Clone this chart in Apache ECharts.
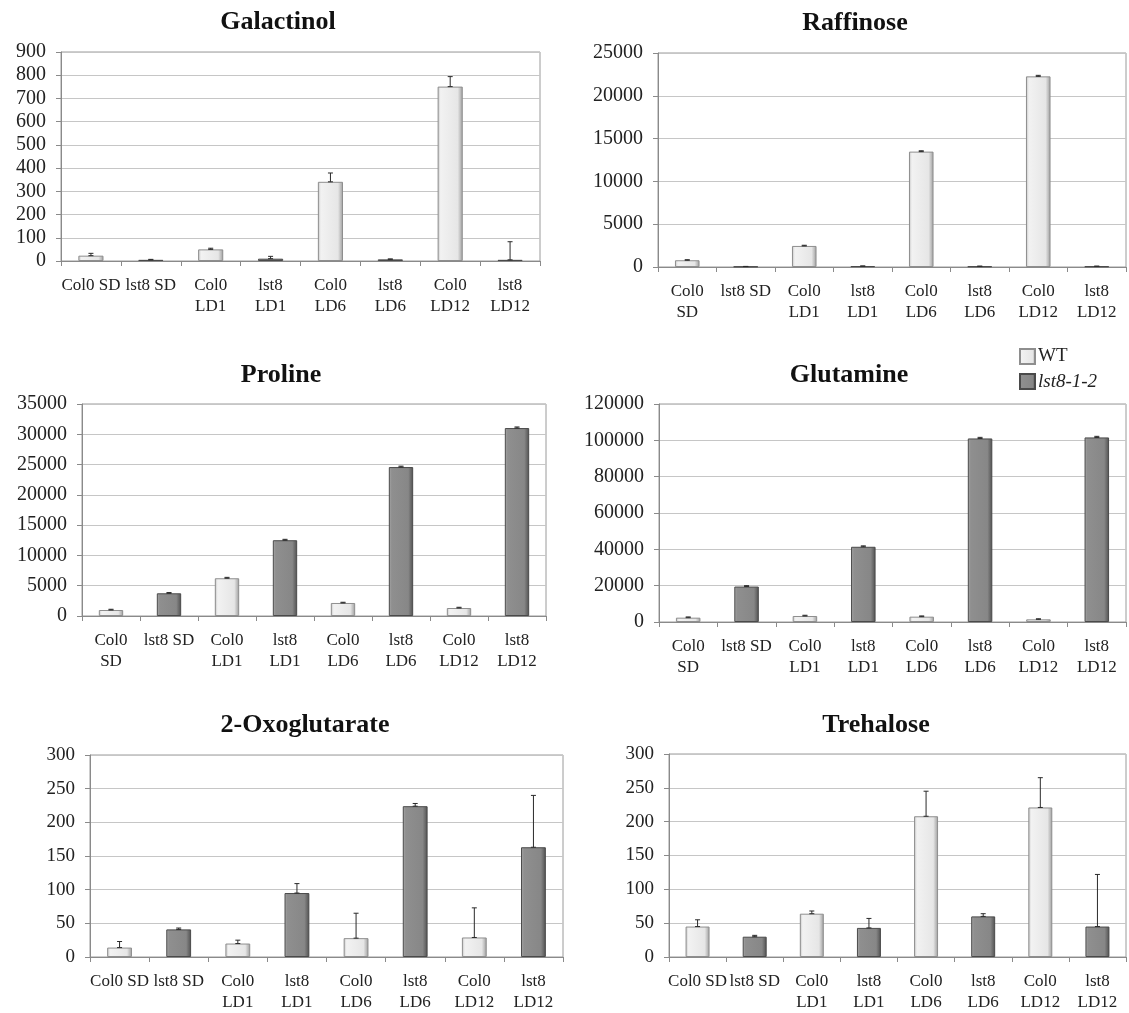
<!DOCTYPE html>
<html>
<head>
<meta charset="utf-8">
<script src="https://cdn.jsdelivr.net/npm/echarts@6/dist/echarts.min.js"></script>
<style>
html,body{margin:0;padding:0;background:#fff;}
#chart{width:1129px;height:1013px;}
</style>
</head>
<body>
<div id="chart"></div>
<script>
// ---------- DATA ----------
const genotypes = ['WT','lst8-1-2','WT','lst8-1-2','WT','lst8-1-2','WT','lst8-1-2'];
const categoriesOneLineSD = ['Col0 SD','lst8 SD','Col0\nLD1','lst8\nLD1','Col0\nLD6','lst8\nLD6','Col0\nLD12','lst8\nLD12'];
const categoriesTwoLineSD = ['Col0\nSD','lst8 SD','Col0\nLD1','lst8\nLD1','Col0\nLD6','lst8\nLD6','Col0\nLD12','lst8\nLD12'];

const galactinolValues = [23, 5, 50, 10, 341, 7, 751, 5];
const galactinolErrors = [10, 2, 5, 10, 38, 2, 43, 78];

const raffinoseValues = [790, 50, 2460, 100, 13480, 80, 22270, 80];
const raffinoseErrors = [60, 20, 80, 20, 100, 20, 120, 20];

const prolineValues = [990, 3750, 6230, 12510, 2150, 24590, 1320, 31030];
const prolineErrors = [120, 120, 150, 150, 120, 150, 120, 180];

const glutamineValues = [2390, 19510, 3310, 41410, 2940, 101040, 1470, 101600];
const glutamineErrors = [400, 500, 400, 500, 400, 600, 300, 600];

const oxoglutarateValues = [14, 41, 20, 95, 28, 224, 29, 163];
const oxoglutarateErrors = [9, 2, 5, 14, 37, 4, 44, 77];

const trehaloseValues = [45, 30, 64, 43, 208, 60, 221, 45];
const trehaloseErrors = [10, 2, 4, 14, 37, 4, 44, 77];

const galactinolTicks = {max: 900, interval: 100};
const raffinoseTicks = {max: 25000, interval: 5000};
const prolineTicks = {max: 35000, interval: 5000};
const glutamineTicks = {max: 120000, interval: 20000};
const oxoglutarateTicks = {max: 300, interval: 50};
const trehaloseTicks = {max: 300, interval: 50};

// ---------- LAYOUT / STYLE ----------
const serif = '"Liberation Serif", "Times New Roman", serif';
const panels = [
  {title:'Galactinol',   cats:categoriesOneLineSD, vals:galactinolValues,   errs:galactinolErrors,   ticks:galactinolTicks,   grid:{left:61, top:52, width:479, height:209}, tx:278, ty:9,   yFont:20},
  {title:'Raffinose',    cats:categoriesTwoLineSD, vals:raffinoseValues,    errs:raffinoseErrors,    ticks:raffinoseTicks,    grid:{left:658,top:53, width:468, height:214}, tx:855, ty:10,  yFont:20},
  {title:'Proline',      cats:categoriesTwoLineSD, vals:prolineValues,      errs:prolineErrors,      ticks:prolineTicks,      grid:{left:82, top:404,width:464, height:212}, tx:281, ty:362, yFont:20},
  {title:'Glutamine',    cats:categoriesTwoLineSD, vals:glutamineValues,    errs:glutamineErrors,    ticks:glutamineTicks,    grid:{left:659,top:404,width:467, height:218}, tx:849, ty:362, yFont:20},
  {title:'2-Oxoglutarate',cats:categoriesOneLineSD,vals:oxoglutarateValues, errs:oxoglutarateErrors, ticks:oxoglutarateTicks, grid:{left:90, top:755,width:473, height:207}, tx:305, ty:712, yFont:19},
  {title:'Trehalose',    cats:categoriesOneLineSD, vals:trehaloseValues,    errs:trehaloseErrors,    ticks:trehaloseTicks,    grid:{left:669,top:754,width:457, height:204}, tx:876, ty:712, yFont:19}
];

const wtColor = new echarts.graphic.LinearGradient(0,0,1,0,[
  {offset:0,color:'#c4c4c4'},{offset:0.12,color:'#f2f2f2'},{offset:0.8,color:'#e6e6e6'},{offset:1,color:'#9c9c9c'}]);
const mutColor = new echarts.graphic.LinearGradient(0,0,1,0,[
  {offset:0,color:'#a8a8a8'},{offset:0.12,color:'#8f8f8f'},{offset:0.8,color:'#878787'},{offset:1,color:'#505050'}]);

const option = {
  animation:false,
  backgroundColor:'#fff',
  title:[], grid:[], xAxis:[], yAxis:[], series:[],
  legend:{
    data:['WT','lst8-1-2'],
    orient:'vertical', left:1019, top:347, itemWidth:15, itemHeight:15, itemGap:6,
    icon:'rect', padding:0,
    textStyle:{fontFamily:serif, fontSize:19, color:'#222', padding:[0,0,0,-2],
      rich:{i:{fontFamily:serif, fontSize:19, fontStyle:'italic', color:'#222'}}},
    formatter:function(n){ return n==='WT' ? n : '{i|'+n+'}'; }
  }
};

panels.forEach(function(p,k){
  option.title.push({text:p.title, left:p.tx, top:p.ty, textAlign:'center', padding:0,
    textStyle:{fontFamily:serif, fontWeight:'bold', fontSize:26, color:'#111'}});
  option.grid.push(Object.assign({show:true, borderColor:'#9a9a9a', borderWidth:1, backgroundColor:'transparent'}, p.grid));
  option.xAxis.push({type:'category', gridIndex:k, data:p.cats,
    axisLine:{lineStyle:{color:'#8a8a8a', width:1}},
    axisTick:{show:true, length:5, alignWithLabel:false, lineStyle:{color:'#8a8a8a'}},
    axisLabel:{interval:0, margin:14, fontFamily:serif, fontSize:17, lineHeight:21, color:'#222'}
  });
  option.yAxis.push({type:'value', gridIndex:k, min:0, max:p.ticks.max, interval:p.ticks.interval,
    axisLine:{show:true, lineStyle:{color:'#8a8a8a', width:1}},
    axisTick:{show:true, length:5, lineStyle:{color:'#8a8a8a'}},
    splitLine:{show:true, lineStyle:{color:'#c6c6c6', width:1}},
    axisLabel:{margin:15, fontFamily:serif, fontSize:p.yFont, color:'#222', formatter:function(v){return String(v);}}
  });
  const wtData = p.vals.map(function(v,i){ return genotypes[i]==='WT' ? v : '-'; });
  const mutData = p.vals.map(function(v,i){ return genotypes[i]!=='WT' ? v : '-'; });
  option.series.push({name:'WT', type:'bar', xAxisIndex:k, yAxisIndex:k, data:wtData,
    barWidth:'42%', barGap:'-100%',
    itemStyle:{color:wtColor, borderColor:'#8e8e8e', borderWidth:1}});
  option.series.push({name:'lst8-1-2', type:'bar', xAxisIndex:k, yAxisIndex:k, data:mutData,
    barWidth:'42%', barGap:'-100%',
    itemStyle:{color:mutColor, borderColor:'#4a4a4a', borderWidth:1}});
  option.series.push({type:'custom', xAxisIndex:k, yAxisIndex:k, z:10, silent:true,
    data:p.vals.map(function(v,i){ return [i, v, p.errs[i]]; }),
    encode:{x:0, y:1},
    renderItem:function(params, api){
      const x = api.value(0), v = api.value(1), e = api.value(2);
      const a = api.coord([x, v]);
      const b = api.coord([x, v + e]);
      const st = {stroke:'#2a2a2a', lineWidth:1};
      return {type:'group', children:[
        {type:'line', shape:{x1:a[0], y1:a[1], x2:b[0], y2:b[1]}, style:st},
        {type:'line', shape:{x1:b[0]-2.5, y1:b[1], x2:b[0]+2.5, y2:b[1]}, style:st},
        {type:'line', shape:{x1:a[0]-2.5, y1:a[1], x2:a[0]+2.5, y2:a[1]}, style:st}
      ]};
    }
  });
});

const chart = echarts.init(document.getElementById('chart'), null, {renderer:'canvas'});
chart.setOption(option);
</script>
</body>
</html>
